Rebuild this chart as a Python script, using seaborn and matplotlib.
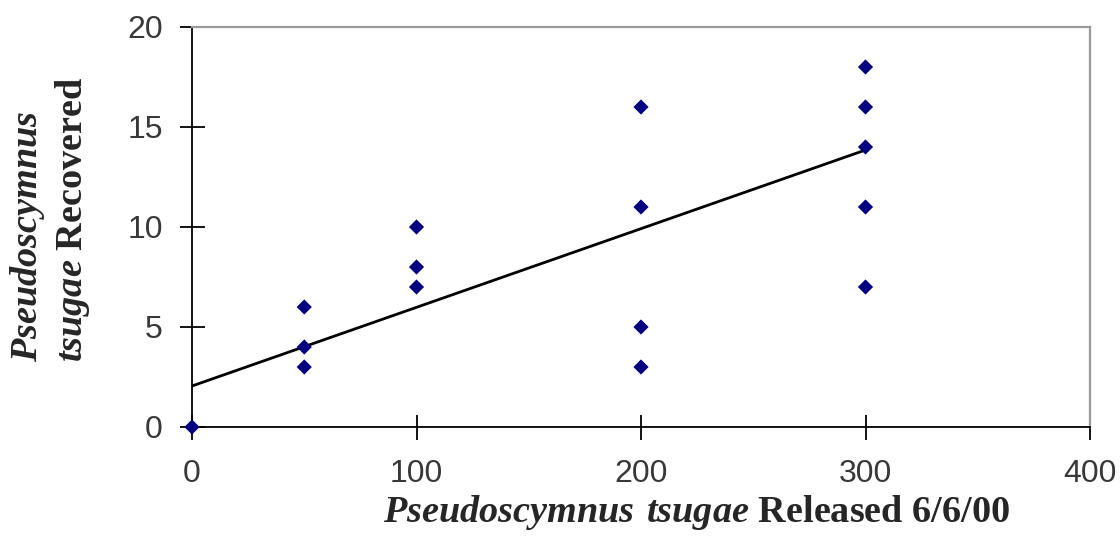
import matplotlib
matplotlib.use("Agg")
import matplotlib.pyplot as plt
import seaborn as sns
import pandas as pd

# beetles released vs recovered per site
released = [0, 50, 50, 50, 100, 100, 100, 200, 200, 200, 200, 300, 300, 300, 300, 300]
recovered = [0, 6, 4, 3, 10, 8, 7, 16, 11, 5, 3, 18, 16, 14, 11, 7]

# trendline
trend_x = [0, 300]
trend_y = [2.05, 13.85]

x_ticks = [0, 100, 200, 300, 400]
y_ticks = [0, 5, 10, 15, 20]

sns.set_style("white")
plt.rcParams["font.family"] = ["Liberation Sans", "DejaVu Sans"]
plt.rcParams["mathtext.fontset"] = "custom"
plt.rcParams["mathtext.bfit"] = "Liberation Serif:italic:bold"
plt.rcParams["mathtext.rm"] = "Liberation Serif"

df = pd.DataFrame({"released": released, "recovered": recovered})
df_trend = pd.DataFrame({"x": trend_x, "y": trend_y})

fig = plt.figure(figsize=(11.2, 5.46), dpi=100)
ax = fig.add_axes([192 / 1120, 1 - 427 / 546, 898 / 1120, 400 / 546])

sns.lineplot(data=df_trend, x="x", y="y", color="black", linewidth=2.0, ax=ax)
sns.scatterplot(data=df, x="released", y="recovered", marker="D", s=60,
                color="#000080", edgecolor="none", clip_on=False, zorder=3, ax=ax)

ax.set_xlim(0, 400)
ax.set_ylim(0, 20)
ax.set_xticks(x_ticks)
ax.set_yticks(y_ticks)
ax.set_xlabel("")
ax.set_ylabel("")
ax.tick_params(bottom=True, left=True, direction="inout", length=18, width=1.3,
               color="black", labelsize=23, labelcolor="#383838")
ax.tick_params(axis="y", pad=12)
ax.tick_params(axis="x", pad=14)

for side in ["left", "bottom"]:
    ax.spines[side].set_color("black")
    ax.spines[side].set_linewidth(1.3)
for side in ["top", "right"]:
    ax.spines[side].set_color("#9a9a9a")
    ax.spines[side].set_linewidth(1.6)

fig.text(697 / 1120, 1 - 512 / 546,
         r"$\mathbfit{Pseudoscymnus\ tsugae}$ Released 6/6/00",
         family="Liberation Serif", fontweight="bold", fontsize=27.5,
         ha="center", va="center")
fig.text(50 / 1120, 1 - 362 / 546,
         "$\\mathbfit{Pseudoscymnus}$\n$\\mathbfit{tsugae}$ Recovered",
         family="Liberation Serif", fontweight="bold", fontsize=27.5,
         rotation=90, ha="center", va="bottom", multialignment="left",
         linespacing=1.2)

fig.savefig("out.png", dpi=100, facecolor="white")
